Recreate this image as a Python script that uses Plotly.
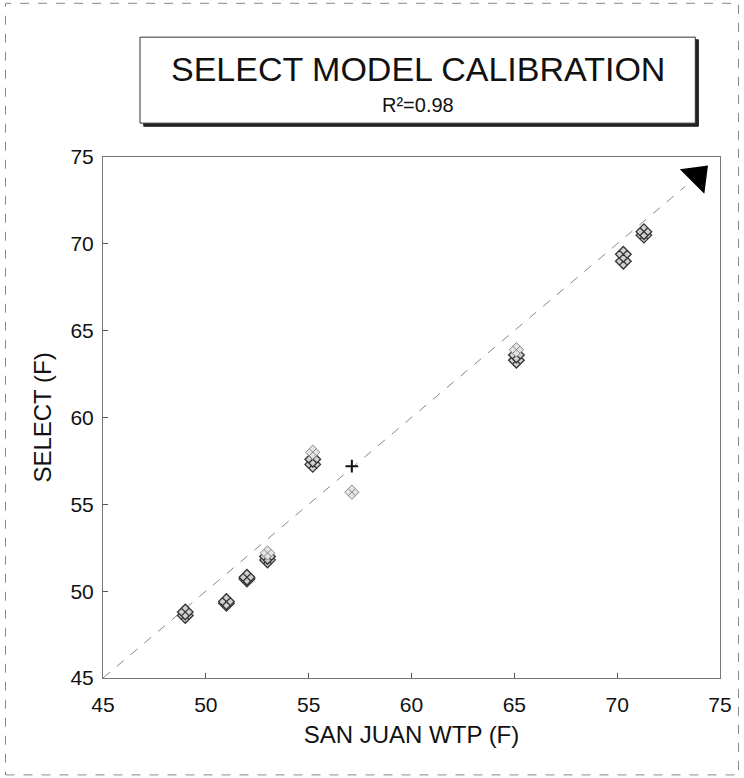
import plotly.graph_objects as go

# Data
x_a = [49.0, 51.0, 52.0, 53.0, 55.2, 65.1, 70.3, 71.3]
y_a = [48.6, 49.3, 50.7, 51.8, 57.3, 63.3, 69.0, 70.5]
x_b = [49.0, 51.0, 52.0, 53.0, 55.2, 65.1, 70.3, 71.3]
y_b = [48.8, 49.4, 50.8, 52.0, 57.6, 63.6, 69.4, 70.7]
x_c = [53.0, 55.2, 57.1, 65.1]
y_c = [52.2, 58.0, 55.7, 63.9]
x_plus = [57.1]
y_plus = [57.2]
line_x = [45, 73.3]
line_y = [45, 73.3]
arrow_x = [73.9]
arrow_y = [73.9]
ticks = [45, 50, 55, 60, 65, 70, 75]

FONT = "Liberation Sans, Arial, sans-serif"

fig = go.Figure()
fig.add_trace(go.Scatter(x=line_x, y=line_y, mode="lines",
                         line=dict(color="#888", width=1, dash="dash"),
                         showlegend=False, hoverinfo="skip"))
fig.add_trace(go.Scatter(x=arrow_x, y=arrow_y, mode="markers",
                         marker=dict(symbol="triangle-up", angle=45, size=30, color="black"),
                         showlegend=False))
mk = dict(symbol="diamond-x", size=12, color="#d0d0d0",
          line=dict(color="#333", width=1.3))
fig.add_trace(go.Scatter(x=x_a, y=y_a, mode="markers", marker=mk, showlegend=False))
fig.add_trace(go.Scatter(x=x_b, y=y_b, mode="markers", marker=mk, showlegend=False))
fig.add_trace(go.Scatter(x=x_c, y=y_c, mode="markers",
                         marker=dict(symbol="diamond-x", size=11, color="#e4e4e4",
                                     line=dict(color="#888", width=1)), showlegend=False))
fig.add_trace(go.Scatter(x=x_plus, y=y_plus, mode="markers",
                         marker=dict(symbol="cross-thin", size=9,
                                     line=dict(color="#111", width=2)), showlegend=False))

axis_common = dict(range=[45, 75], tickvals=ticks, ticks="inside", ticklen=5,
                   tickcolor="#555", showgrid=False, zeroline=False,
                   showline=True, linecolor="#777", linewidth=1, mirror=True,
                   tickfont=dict(family=FONT, size=21, color="#111"))
fig.update_xaxes(**axis_common, ticklabelstandoff=8,
                 title=dict(text="SAN JUAN WTP (F)", standoff=10,
                            font=dict(family=FONT, size=24, color="#111")))
fig.update_yaxes(**axis_common, ticklabelstandoff=4,
                 title=dict(text="SELECT (F)", standoff=12,
                            font=dict(family=FONT, size=24, color="#111")))

# Title box with drop shadow
fig.add_shape(type="rect", xref="paper", yref="paper",
              x0=0.066, x1=0.965, y0=1.059, y1=1.225,
              line=dict(color="#222", width=1), fillcolor="#222", layer="below")
fig.add_shape(type="rect", xref="paper", yref="paper",
              x0=0.06, x1=0.96, y0=1.065, y1=1.23,
              line=dict(color="#333", width=1), fillcolor="white", layer="below")
# outer page border
fig.add_shape(type="rect", xref="paper", yref="paper",
              x0=-0.158, x1=1.03, y0=-0.186, y1=1.295,
              line=dict(color="#888", width=1, dash="dash"))

fig.add_annotation(text="SELECT MODEL CALIBRATION", xref="paper", yref="paper",
                   x=0.51, y=1.168, yanchor="middle", showarrow=False,
                   font=dict(family=FONT, size=34, color="#111"))
fig.add_annotation(text="R²=0.98", xref="paper", yref="paper",
                   x=0.51, y=1.1, yanchor="middle", showarrow=False,
                   font=dict(family=FONT, size=20, color="#111"))

fig.update_layout(width=744, height=778, paper_bgcolor="white", plot_bgcolor="white",
                  margin=dict(l=103, r=22, t=157, b=100), showlegend=False)
fig.write_html("out.html")
